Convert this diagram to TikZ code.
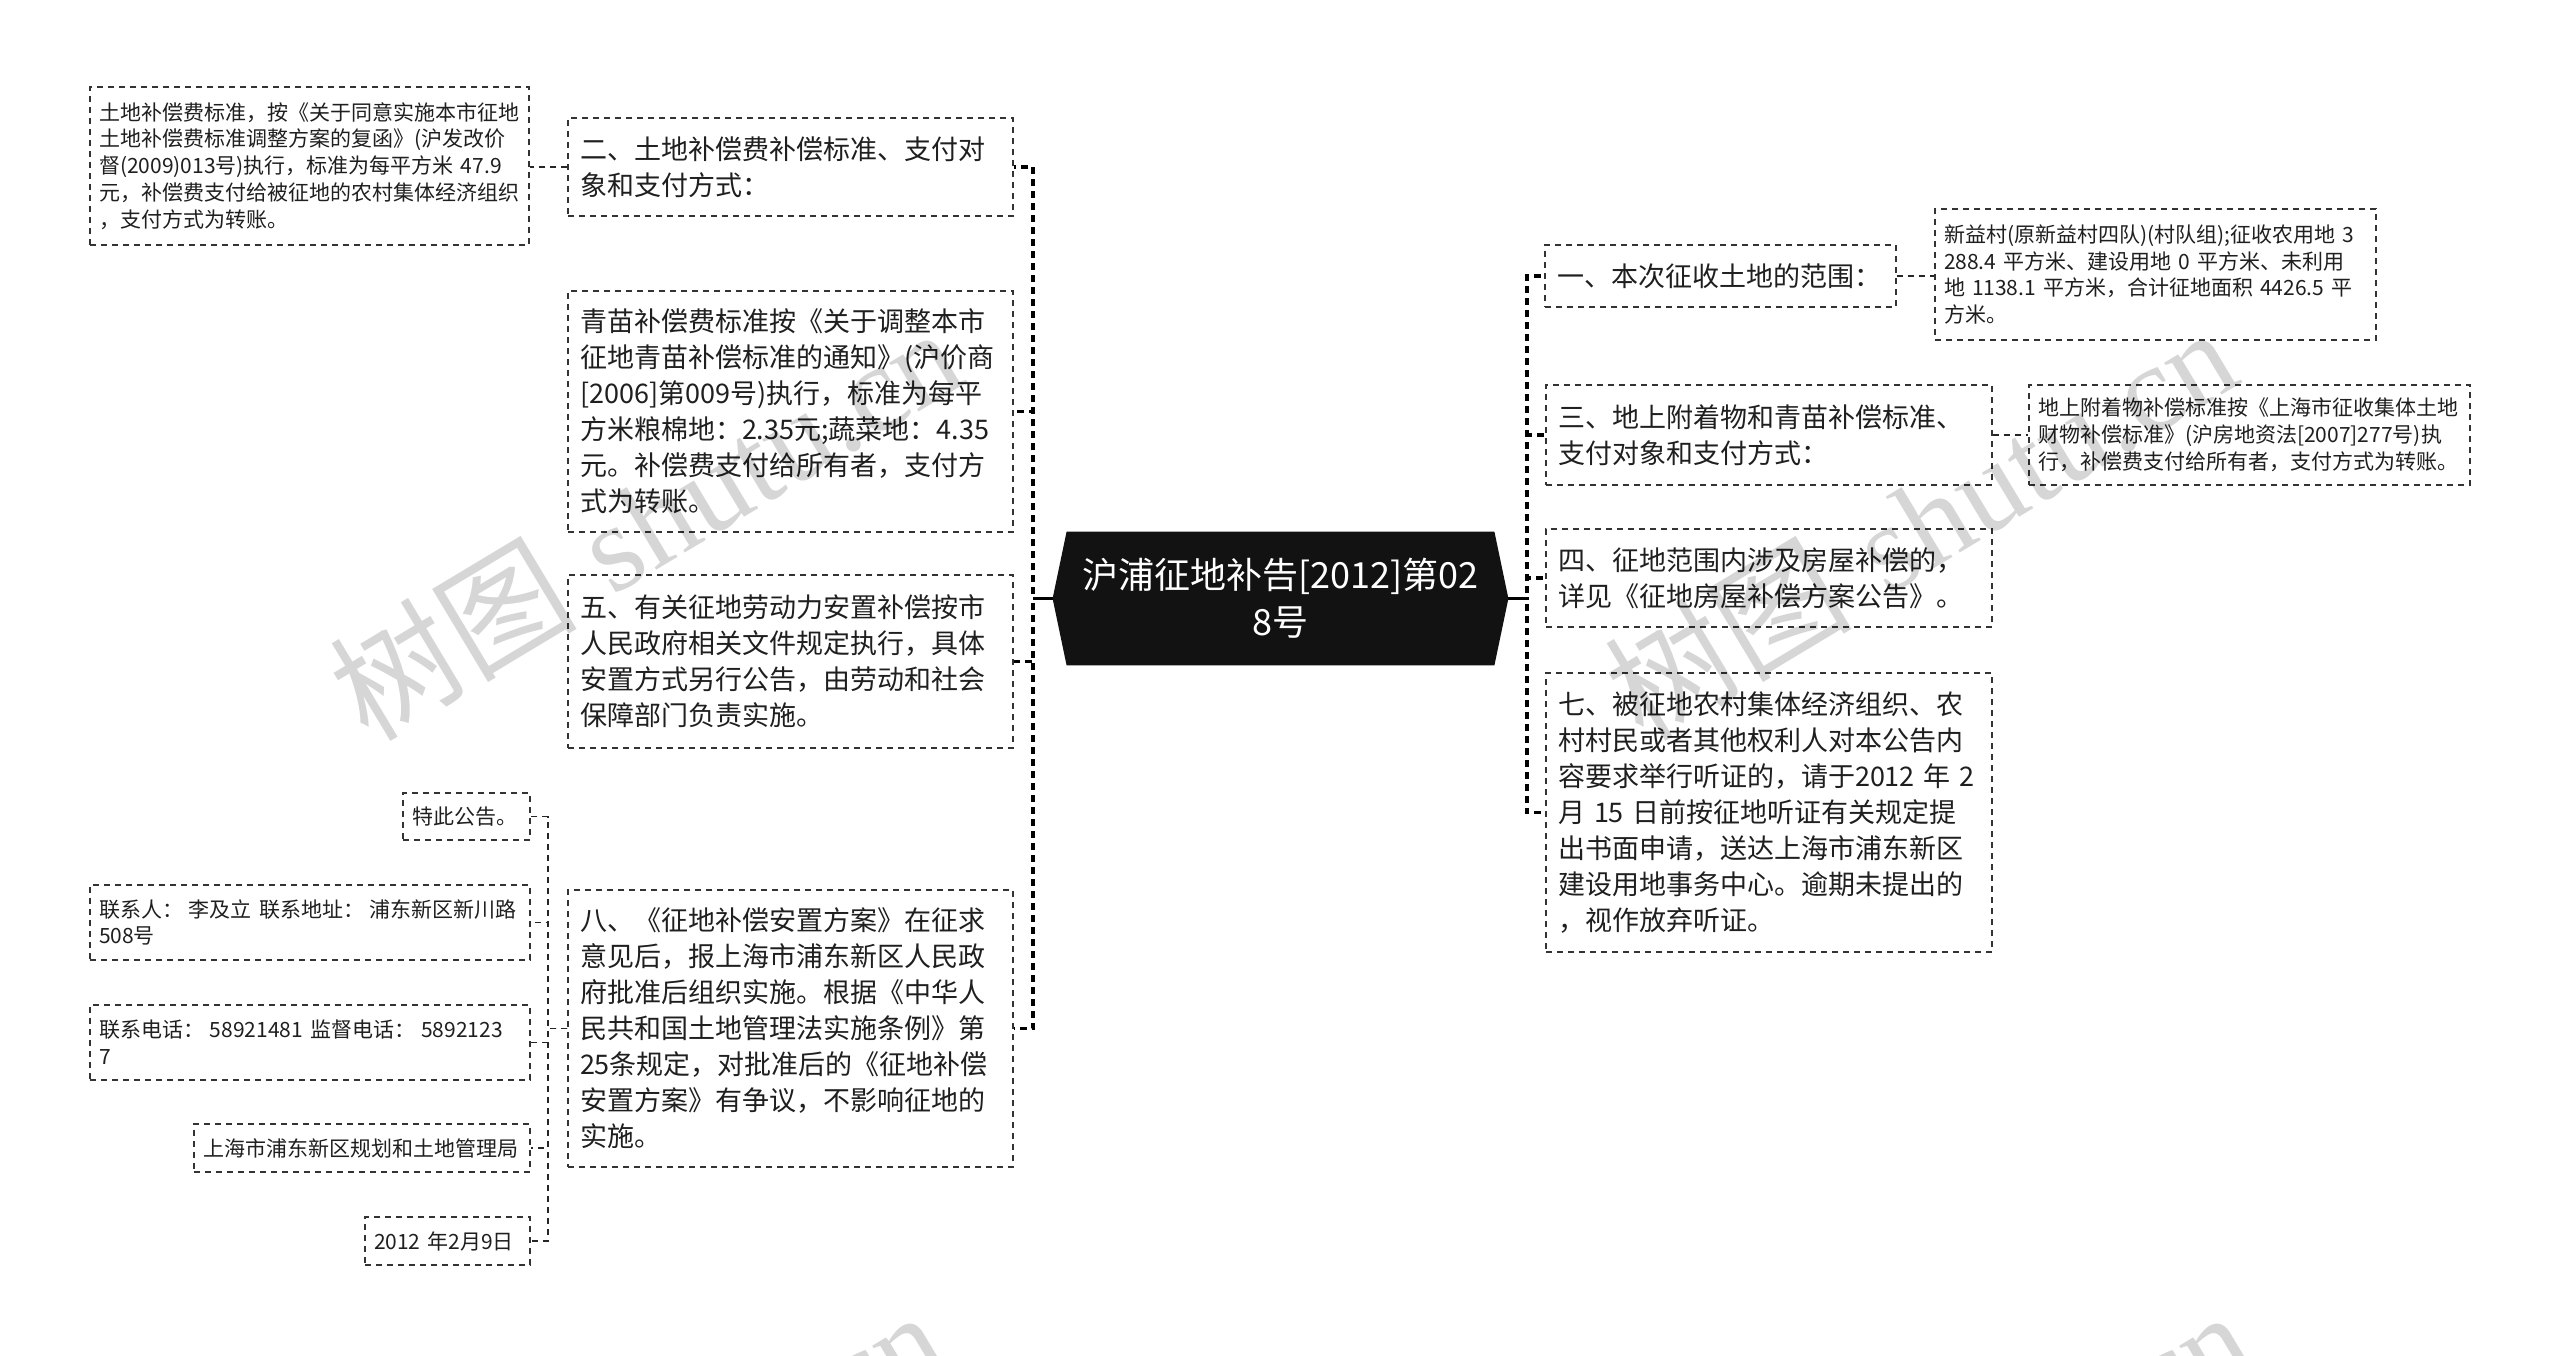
\documentclass[tikz,border=0pt]{standalone}
\usepackage{fontspec}
\setmainfont{Noto Sans CJK SC}
\newfontfamily\wmlatin{Liberation Serif}
\tikzset{
  mbox/.style={draw=black!80, line width=0.7pt, dash pattern=on 3pt off 2.5pt, fill=white,
    align=left, inner xsep=6pt, inner ysep=0pt, text=black!88,
    font=\fontsize{13.5pt}{18pt}\selectfont},
  lbox/.style={mbox, inner xsep=4.5pt, font=\fontsize{10.5pt}{13.4pt}\selectfont},
  trunk/.style={draw=black, line width=1.6pt, dash pattern=on 3.5pt off 2.5pt},
  stub/.style={draw=black, line width=1.6pt},
  twig/.style={draw=black!85, line width=0.75pt, dash pattern=on 3pt off 2.5pt},
  wm/.style={text=black, text opacity=0.16, font=\fontsize{62pt}{62pt}\selectfont, inner sep=0pt},
}
\begin{document}
\begin{tikzpicture}[x=0.5pt,y=-0.5pt]
\useasboundingbox (0,0) rectangle (2560,1355);
\fill[white] (0,0) rectangle (2560,1355);

% root
\node[minimum width=227.5pt, minimum height=66.5pt, inner sep=0pt] (root) at (1280.5,598.5) {};
\fill[black!93] (root.west) -- ([xshift=7pt]root.north west) -- ([xshift=-7pt]root.north east)
  -- (root.east) -- ([xshift=-7pt]root.south east) -- ([xshift=7pt]root.south west) -- cycle;
\node[text=white, align=center, font=\fontsize{18pt}{23.5pt}\selectfont] (roottext) at (root) {沪浦征地补告[2012]第02\\8号};

% left main boxes
\node[mbox, text width=210.5pt, minimum height=49pt] (c2) at (790.5,167)
  {二、土地补偿费补偿标准、支付对\\象和支付方式：};
\node[mbox, text width=210.5pt, minimum height=120.5pt] (c3) at (790.5,411.5)
  {青苗补偿费标准按《关于调整本市\\征地青苗补偿标准的通知》(沪价商\\{}[2006]第009号)执行，标准为每平\\方米粮棉地：2.35元;蔬菜地：4.35\\元。补偿费支付给所有者，支付方\\式为转账。};
\node[mbox, text width=210.5pt, minimum height=86.5pt] (c5) at (790.5,661.5)
  {五、有关征地劳动力安置补偿按市\\人民政府相关文件规定执行，具体\\安置方式另行公告，由劳动和社会\\保障部门负责实施。};
\node[mbox, text width=210.5pt, minimum height=138.5pt] (c8) at (790.5,1028.5)
  {八、《征地补偿安置方案》在征求\\意见后，报上海市浦东新区人民政\\府批准后组织实施。根据《中华人\\民共和国土地管理法实施条例》第\\25条规定，对批准后的《征地补偿\\安置方案》有争议，不影响征地的\\实施。};

% right main boxes
\node[mbox, text width=163.5pt, minimum height=31pt] (r1) at (1720.5,276)
  {一、本次征收土地的范围：};
\node[mbox, text width=211pt, minimum height=50pt] (r3) at (1769,435)
  {三、地上附着物和青苗补偿标准、\\支付对象和支付方式：};
\node[mbox, text width=211pt, minimum height=49pt] (r4) at (1769,578)
  {四、征地范围内涉及房屋补偿的，\\详见《征地房屋补偿方案公告》。};
\node[mbox, text width=211pt, minimum height=139.5pt] (r7) at (1769,812.5)
  {七、被征地农村集体经济组织、农\\村村民或者其他权利人对本公告内\\容要求举行听证的，请于2012~年~2\\月~15~日前按征地听证有关规定提\\出书面申请，送达上海市浦东新区\\建设用地事务中心。逾期未提出的\\，视作放弃听证。};

% leaves
\node[lbox, text width=210.5pt, minimum height=79pt] (lA) at (309.5,166)
  {土地补偿费标准，按《关于同意实施本市征地\\土地补偿费标准调整方案的复函》(沪发改价\\督(2009)013号)执行，标准为每平方米~47.9\\元，补偿费支付给被征地的农村集体经济组织\\，支付方式为转账。};
\node[lbox, text width=211.5pt, minimum height=65.5pt] (l1) at (2155.5,274.5)
  {新益村(原新益村四队)(村队组);征收农用地~3\\288.4~平方米、建设用地~0~平方米、未利用\\地~1138.1~平方米，合计征地面积~4426.5~平\\方米。};
\node[lbox, text width=211.5pt, minimum height=50pt] (l3) at (2249.5,435)
  {地上附着物补偿标准按《上海市征收集体土地\\财物补偿标准》(沪房地资法[2007]277号)执\\行，补偿费支付给所有者，支付方式为转账。};
\node[lbox, text width=54.5pt, minimum height=23.5pt] (b1) at (466.5,816.5) {特此公告。};
\node[lbox, text width=211pt, minimum height=37.5pt] (b2) at (310,922.5)
  {联系人：\hspace{3pt}李及立~联系地址：\hspace{3pt}浦东新区新川路\\508号};
\node[lbox, text width=211pt, minimum height=37.5pt] (b3) at (310,1042.5)
  {联系电话：\hspace{3pt}58921481~监督电话：\hspace{3pt}5892123\\7};
\node[lbox, text width=159pt, minimum height=24pt] (b4) at (362,1148) {上海市浦东新区规划和土地管理局};
\node[lbox, text width=73.5pt, minimum height=24pt] (b5) at (447.5,1241) {2012~年2月9日};

% connectors
\coordinate (trunkL) at (1033,598.5);
\coordinate (trunkR) at (1527,598.5);
\coordinate (hub8) at (548,1028.5);
\foreach \n in {c2,c3,c5,c8} \draw[trunk] (root.west) -- (trunkL) |- (\n.east);
\foreach \n in {r1,r3,r4,r7} \draw[trunk] (root.east) -- (trunkR) |- (\n.west);
\draw[stub] (root.west) -- (trunkL);
\draw[stub] (root.east) -- (trunkR);
\draw[twig] (c2.west) -- (lA.east |- c2.west);
\draw[twig] (r1.east) -- (l1.west |- r1.east);
\draw[twig] (r3.east) -- (l3.west);
\foreach \n in {b1,b2,b3,b4,b5} \draw[twig] (c8.west) -- (hub8) |- (\n.east);

% watermarks
\begin{scope}
\clip (0,0) rectangle (2560,1355);
\node[wm, rotate=31] (wm1) at (645,522) {树图\hspace{0.3em}{\wmlatin shutu.cn}};
\node[wm, rotate=31] (wm2) at (1920,522) {树图\hspace{0.3em}{\wmlatin shutu.cn}};
\node[wm, rotate=31] (wm3) at (628,1505) {树图\hspace{0.3em}{\wmlatin shutu.cn}};
\node[wm, rotate=31] (wm4) at (1935,1505) {树图\hspace{0.3em}{\wmlatin shutu.cn}};
\end{scope}
\end{tikzpicture}
\end{document}
